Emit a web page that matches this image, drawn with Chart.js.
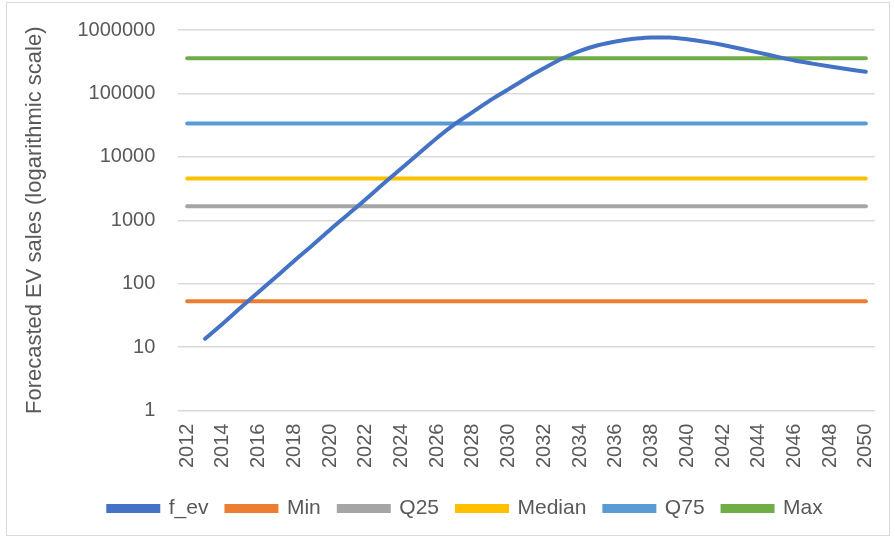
<!DOCTYPE html>
<html>
<head>
<meta charset="utf-8">
<script src="https://cdn.jsdelivr.net/npm/chart.js@4"></script>
<style>
    body { margin: 0; background: #fff; }
    #wrap { position: relative; width: 895px; height: 541px; }
    #frame { position: absolute; left: 6px; top: 2px; width: 884px; height: 534px; border: 1px solid #d9d9d9; box-sizing: border-box; pointer-events: none; }
</style>
</head>
<body>
<div id="wrap">
    <canvas id="lineChart" width="895" height="541"></canvas>
    <div id="frame"></div>
</div>
<script>
// years on the category axis
const years = []
for (let y = 2012; y <= 2050; y++) years.push(String(y))

// forecast (2012 has no value)
const fEv = [null, 13.5, 23.5, 42, 74, 130, 230, 400, 710, 1230, 2140, 3800, 6600, 11500, 20000,
    33000, 51000, 79000, 117000, 174000, 251000, 355000, 468000, 575000, 660000, 725000, 765000,
    760000, 715000, 650000, 580000, 505000, 440000, 380000, 330000, 295000, 265000, 240000, 220000]

// constant reference levels
const minVal = 53
const q25Val = 1665
const medianVal = 4550
const q75Val = 33500
const maxVal = 358000

const yTicks = [1, 10, 100, 1000, 10000, 100000, 1000000]

const flat = v => years.map(() => v)

function lineSet(label, data, color, extra) {
    return Object.assign({
        label: label,
        data: data,
        borderColor: color,
        backgroundColor: color,
        borderWidth: 4,
        pointRadius: 0,
        borderCapStyle: 'round',
        fill: false
    }, extra || {})
}

// excel puts the legend a bit right of the page centre
const legendShift = {
    id: 'legendShift',
    afterLayout(chart) {
        chart.legend.left += 14
        chart.legend.right += 14
    }
}

document.addEventListener('DOMContentLoaded', function() {
    const textColor = '#595959'
    const font = 'Liberation Sans'

    new Chart(document.getElementById('lineChart'), {
        type: 'line',
        data: {
            labels: years,
            datasets: [
                lineSet('f_ev', fEv, '#4472c4', { cubicInterpolationMode: 'monotone' }),
                lineSet('Min', flat(minVal), '#ed7d31'),
                lineSet('Q25', flat(q25Val), '#a5a5a5'),
                lineSet('Median', flat(medianVal), '#ffc000'),
                lineSet('Q75', flat(q75Val), '#5b9bd5'),
                lineSet('Max', flat(maxVal), '#70ad47')
            ]
        },
        plugins: [legendShift],
        options: {
            responsive: false,
            animation: false,
            layout: { padding: { left: 18, right: 10, top: 30, bottom: 12 } },
            plugins: {
                tooltip: { enabled: false },
                legend: {
                    position: 'bottom',
                    // empty title only used as spacer above the legend row
                    title: {
                        display: true,
                        text: ' ',
                        font: { size: 5 },
                        padding: { top: 0, bottom: 1 }
                    },
                    labels: {
                        boxWidth: 50,
                        boxHeight: 5,
                        padding: 18,
                        color: textColor,
                        font: { family: font, size: 21 }
                    }
                }
            },
            scales: {
                x: {
                    offset: true,
                    grid: { display: false },
                    border: { display: false },
                    ticks: {
                        autoSkip: false,
                        minRotation: 90,
                        maxRotation: 90,
                        padding: 5,
                        color: textColor,
                        font: { family: font, size: 20 },
                        callback: function(value, index) {
                            return index % 2 === 0 ? years[index] : null
                        }
                    }
                },
                y: {
                    type: 'logarithmic',
                    min: 1,
                    max: 1000000,
                    afterBuildTicks: function(axis) {
                        axis.ticks = yTicks.map(v => ({ value: v }))
                    },
                    afterFit: function(axis) {
                        axis.paddingTop = 0
                        axis.paddingBottom = 0
                    },
                    grid: { color: '#d9d9d9', lineWidth: 1.5, drawTicks: false },
                    border: { display: false },
                    ticks: {
                        padding: 23,
                        color: textColor,
                        font: { family: font, size: 20 },
                        callback: v => String(v)
                    },
                    title: {
                        display: true,
                        text: 'Forecasted EV sales (logarithmic scale)',
                        color: textColor,
                        font: { family: font, size: 22 },
                        padding: { top: 4, bottom: 6 }
                    }
                }
            }
        }
    })
})
</script>
</body>
</html>
